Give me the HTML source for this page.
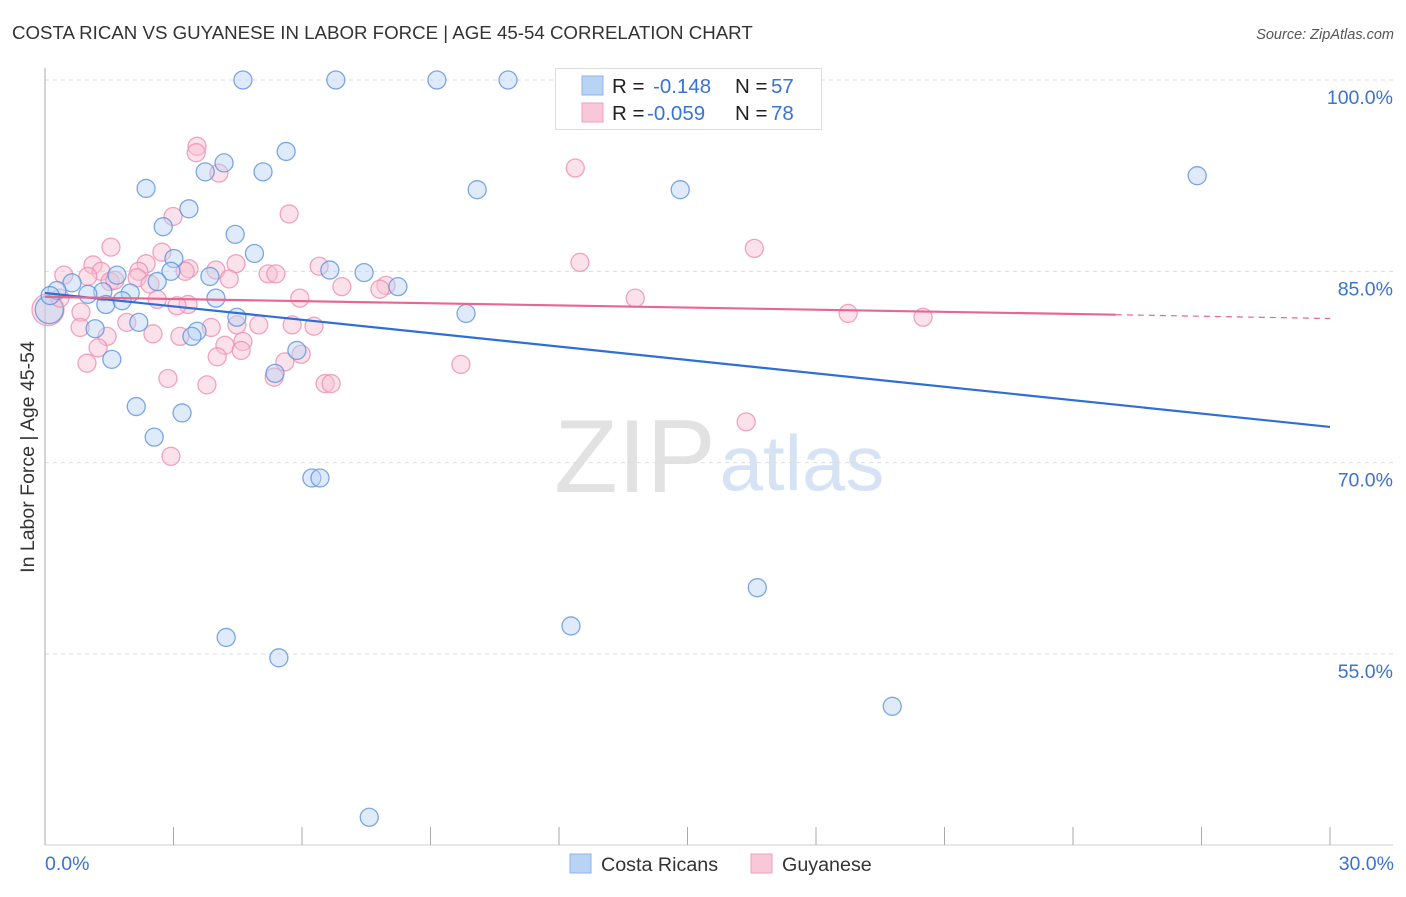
<!DOCTYPE html>
<html><head><meta charset="utf-8">
<style>
body{margin:0;background:#fff;font-family:"Liberation Sans",sans-serif;}
svg text{font-family:"Liberation Sans",sans-serif;}
</style></head>
<body>
<svg id="chart" width="1406" height="892" xmlns="http://www.w3.org/2000/svg">
<text x="12" y="39" font-size="18.7" fill="#333">COSTA RICAN VS GUYANESE IN LABOR FORCE | AGE 45-54 CORRELATION CHART</text>
<text x="1394" y="39" font-size="14.5" fill="#555" font-style="italic" text-anchor="end">Source: ZipAtlas.com</text>
<g>
<text x="635" y="492" font-size="104" fill="#e2e2e2" font-family="Liberation Serif, serif" text-anchor="middle">ZIP</text>
<text x="802" y="490" font-size="78" fill="#d6e3f5" text-anchor="middle">atlas</text>
</g>
<g id="grid"></g>
<g id="axes"></g>
<g id="pts"></g>
<g id="trend"></g>
<text transform="translate(34,457) rotate(-90)" font-size="19.5" fill="#333" text-anchor="middle">In Labor Force | Age 45-54</text>
<g>
<rect x="555.5" y="68.5" width="266" height="61" fill="#fff" stroke="#ddd"/>
<rect x="582" y="76" width="21" height="19" fill="#b9d3f5" stroke="#8db4ea"/>
<rect x="582" y="103" width="21" height="19" fill="#f9c8d8" stroke="#f0a0bb"/>
<text x="612" y="93" font-size="20.5" fill="#222">R = </text><text x="653" y="93" font-size="20.5" fill="#3a73d0">-0.148</text>
<text x="735" y="93" font-size="20.5" fill="#222">N = </text><text x="771" y="93" font-size="20.5" fill="#3a73d0">57</text>
<text x="612" y="120" font-size="20.5" fill="#222">R = </text><text x="647" y="120" font-size="20.5" fill="#3a73d0">-0.059</text>
<text x="735" y="120" font-size="20.5" fill="#222">N = </text><text x="771" y="120" font-size="20.5" fill="#3a73d0">78</text>
</g>
<g>
<rect x="570" y="854" width="21" height="19" fill="#b9d3f5" stroke="#8db4ea"/>
<text x="601" y="871" font-size="19.7" fill="#333">Costa Ricans</text>
<rect x="751" y="854" width="21" height="19" fill="#f9c8d8" stroke="#f0a0bb"/>
<text x="782" y="871" font-size="19.7" fill="#333">Guyanese</text>
</g>
</svg>
<script>
const xTicks=[0,3,6,9,12,15,18,21,24,27,30];
const yTicks=[100,85,70,55];
const yTickLabels=["100.0%","85.0%","70.0%","55.0%"];
const xEndLabels=["0.0%","30.0%"];
const blueX=[4.62,6.79,9.15,10.81,26.90,10.09,14.83,2.36,4.18,3.74,5.09,5.63,3.36,2.76,4.44,4.89,3.01,2.94,3.85,6.65,7.45,8.24,2.62,1.68,3.99,1.99,1.35,1.00,0.63,0.28,0.12,1.42,1.80,1.17,2.19,4.48,9.83,3.55,3.43,5.88,5.37,1.56,2.13,3.20,2.55,6.23,6.42,16.63,12.28,4.23,5.46,19.78,7.57];
const blueY=[100,100,100,100,92.5,91.4,91.4,91.5,93.5,92.8,92.8,94.4,89.9,88.5,87.9,86.4,86.0,85.0,84.6,85.1,84.9,83.8,84.2,84.7,82.9,83.3,83.4,83.2,84.1,83.5,83.1,82.4,82.7,80.5,81.0,81.4,81.7,80.3,79.9,78.8,77.0,78.1,74.4,73.9,72.0,68.8,68.8,60.2,57.2,56.3,54.7,50.9,42.2];
const pinkX=[3.55,3.53,4.06,12.38,5.70,2.99,16.56,1.54,2.73,12.49,1.12,2.36,4.46,6.40,3.36,3.99,1.31,2.19,0.44,1.00,5.21,5.39,3.27,4.30,2.15,2.45,1.52,7.96,7.82,6.93,1.63,5.95,13.78,2.62,3.34,3.08,0.84,18.75,20.50,1.91,3.88,4.99,5.77,4.48,6.28,0.82,1.45,2.52,3.15,4.62,4.20,4.58,1.24,5.98,4.02,5.60,0.98,9.71,5.35,2.87,3.78,6.54,6.68,16.37,2.94,0.35];
const pinkY=[94.8,94.3,92.7,93.1,89.5,89.3,86.8,86.9,86.5,85.7,85.5,85.6,85.6,85.4,85.2,85.1,85.0,85.0,84.7,84.6,84.8,84.8,85.0,84.4,84.5,84.0,84.2,83.9,83.6,83.8,84.3,82.9,82.9,82.8,82.4,82.3,81.8,81.7,81.4,81.0,80.6,80.8,80.8,80.8,80.7,80.6,79.9,80.1,79.9,79.5,79.2,78.8,79.0,78.5,78.3,77.9,77.8,77.7,76.7,76.6,76.1,76.2,76.2,73.2,70.5,82.9];
const bigX=[0.1,0.07];const bigY=[82.0,82.0];
const blueTrend=[[0,83.3],[30,72.8]];
const pinkTrend=[[0,83.0],[25,81.6],[30,81.3]];
const NS="http://www.w3.org/2000/svg";
const X0=45,X1=1330,Y100=80,Y55=654;
const sx=v=>X0+(X1-X0)*v/30;
const sy=v=>Y100+(100-v)*(Y55-Y100)/45;
function mk(tag,at,parent){const e=document.createElementNS(NS,tag);for(const k in at)e.setAttribute(k,at[k]);document.getElementById(parent).appendChild(e);return e;}
yTicks.forEach((t,i)=>{
 const l=mk('line',{x1:X0,x2:1393,y1:sy(t),y2:sy(t),stroke:'#ddd','stroke-dasharray':'4,4'},'grid');
 
 
 const tx=mk('text',{x:1393,y:sy(t)+24,'font-size':19.5,fill:'#3a73d0','text-anchor':'end'},'axes');
 tx.textContent=yTickLabels[i];
 
 
});
const ax=mk('line',{x1:X0,x2:X0,y1:68,y2:845,stroke:'#aaa'},'axes');


const bx=mk('line',{x1:X0,x2:1393,y1:845,y2:845,stroke:'#ccc'},'axes');


xTicks.forEach(t=>{
 const l=mk('line',{x1:sx(t),x2:sx(t),y1:827,y2:845,stroke:'#aaa'},'axes');
 
 
});
[[0,'start'],[30,'end']].forEach((p,i)=>{
 const tx=mk('text',{x:sx(p[0])+(i?64:0),y:870,'font-size':19.5,fill:'#3a73d0','text-anchor':i?'end':'start'},'axes');
 tx.textContent=xEndLabels[i];
 
 
});
function dots(xs,ys,fill,stroke,name,r){
 xs.forEach((x,i)=>{
  const c=mk('circle',{cx:sx(x),cy:sy(ys[i]),r:r,fill:fill,'fill-opacity':0.45,stroke:stroke,'stroke-width':1.3,'stroke-opacity':0.8},'pts');
  
  
 });
}
dots(bigX.slice(1),bigY.slice(1),'#f7bfd1','#ee8fb0','guyanese-point',16);
dots(bigX.slice(0,1),bigY.slice(0,1),'#b9d3f5','#5d92e0','costa-rican-point',14);
dots(pinkX,pinkY,'#f7bfd1','#ee8fb0','guyanese-point',9);
dots(blueX,blueY,'#b9d3f5','#5d92e0','costa-rican-point',9);
const bl=mk('line',{x1:sx(blueTrend[0][0]),y1:sy(blueTrend[0][1]),x2:sx(blueTrend[1][0]),y2:sy(blueTrend[1][1]),stroke:'#2d6fd6','stroke-width':2.2},'trend');


const pl=mk('line',{x1:sx(pinkTrend[0][0]),y1:sy(pinkTrend[0][1]),x2:sx(pinkTrend[1][0]),y2:sy(pinkTrend[1][1]),stroke:'#e8668f','stroke-width':2.2},'trend');


const pd=mk('line',{x1:sx(pinkTrend[1][0]),y1:sy(pinkTrend[1][1]),x2:sx(pinkTrend[2][0]),y2:sy(pinkTrend[2][1]),stroke:'#e8668f','stroke-width':1.2,'stroke-dasharray':'6,5'},'trend');


</script>
</body></html>
